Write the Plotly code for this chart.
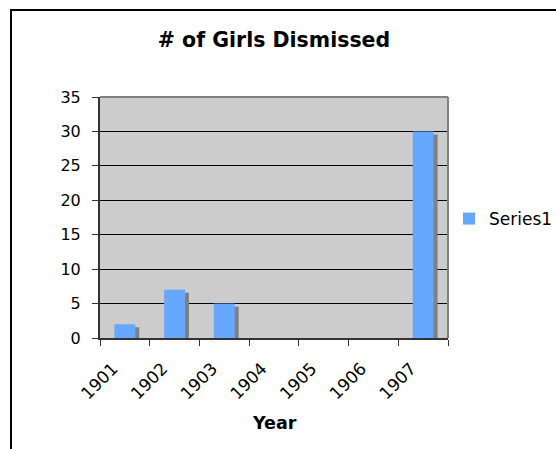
import plotly.graph_objects as go

years = ["1901", "1902", "1903", "1904", "1905", "1906", "1907"]
girls_dismissed = [2, 7, 5, 0, 0, 0, 30]
series_name = "Series1"

W, H = 556, 449
L, R, T, B = 100, 448, 97, 338

def px_x(x):
    return (x - L) / (R - L)

def px_y(y):
    return (B - y) / (B - T)

BAR_W = 0.42
SHADOW_DX = 0.08
SHADOW_DY = 0.44
FONT = "DejaVu Sans"

fig = go.Figure()
fig.add_trace(go.Bar(
    x=years, y=girls_dismissed, base=[-SHADOW_DY] * len(years),
    width=BAR_W, offset=-BAR_W / 2 + SHADOW_DX,
    marker=dict(color="#808080", line=dict(width=0)),
    showlegend=False, hoverinfo="skip",
))
fig.add_trace(go.Bar(
    x=years, y=girls_dismissed, name=series_name,
    width=BAR_W, offset=-BAR_W / 2,
    marker=dict(color="#66A8FF", line=dict(width=0)),
))

fig.update_layout(
    width=W, height=H,
    margin=dict(l=L, r=W - R, t=T, b=H - B, autoexpand=False),
    paper_bgcolor="white", plot_bgcolor="#CCCCCC",
    barmode="overlay",
    font=dict(family=FONT, size=16, color="black"),
    title=dict(text="<b># of Girls Dismissed</b>", x=0.5, xref="paper",
               xanchor="center", y=1 - 40 / H, yref="container", yanchor="middle",
               font=dict(family=FONT, size=20.5, color="black")),
    xaxis=dict(type="category", range=[-0.5, 6.5], tickson="boundaries",
               ticks="outside", ticklen=6, tickcolor="#333333", tickangle=-45,
               showline=True, linecolor="#333333", linewidth=2,
               showgrid=False, zeroline=False, automargin=False,
               ticklabelshift=-12, ticklabelstandoff=12,
               tickfont=dict(family=FONT, size=17)),
    yaxis=dict(range=[0, 35], dtick=5, ticks="outside", ticklen=6,
               tickcolor="#333333", showline=True, linecolor="#333333", linewidth=2,
               showgrid=True, gridcolor="black", gridwidth=1, zeroline=False,
               automargin=False,
               ticklabelstandoff=8, tickfont=dict(family=FONT, size=16)),
    legend=dict(x=px_x(449), y=px_y(219), xanchor="left", yanchor="middle",
                font=dict(family=FONT, size=17), itemwidth=30,
                bgcolor="rgba(0,0,0,0)"),
    annotations=[dict(text="<b>Year</b>", x=0.5, y=px_y(423), xref="paper", yref="paper",
                      xanchor="center", yanchor="middle", showarrow=False,
                      font=dict(family=FONT, size=17.5))],
    shapes=[
        dict(type="line", xref="paper", yref="paper", x0=0, x1=1, y0=1, y1=1,
             line=dict(color="#808080", width=2), layer="above"),
        dict(type="line", xref="paper", yref="paper", x0=1, x1=1, y0=0, y1=1,
             line=dict(color="#808080", width=2), layer="above"),
        dict(type="rect", xref="paper", yref="paper", x0=px_x(11), x1=px_x(700),
             y0=px_y(700), y1=px_y(10), line=dict(color="black", width=2),
             fillcolor="rgba(0,0,0,0)", layer="above"),
    ],
)

fig.write_html("out.html", config={"displayModeBar": False},
               post_script="document.body.style.margin='0';document.body.style.overflow='hidden';")
